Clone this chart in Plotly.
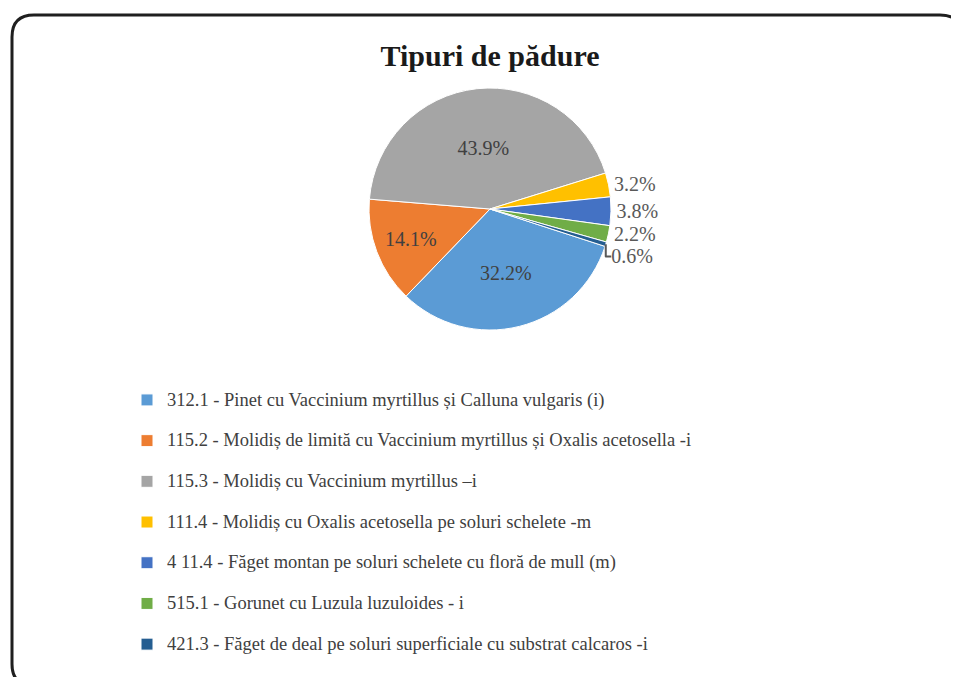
import plotly.graph_objects as go

# ---- data ----
labels = [
    "312.1 - Pinet cu Vaccinium myrtillus și Calluna vulgaris (i)",
    "115.2 - Molidiș de limită cu Vaccinium myrtillus și Oxalis acetosella -i",
    "115.3 - Molidiș cu Vaccinium myrtillus –i",
    "111.4 - Molidiș cu Oxalis acetosella pe soluri schelete -m",
    "4 11.4 - Făget montan pe soluri schelete cu floră de mull (m)",
    "515.1 - Gorunet cu Luzula luzuloides - i",
    "421.3 - Făget de deal pe soluri superficiale cu substrat calcaros -i",
]
values = [32.2, 14.1, 43.9, 3.2, 3.8, 2.2, 0.6]
colors = ["#5B9BD5", "#ED7D31", "#A5A5A5", "#FFC000", "#4472C4", "#70AD47", "#255E91"]
title_text = "Tipuri de pădure"

W, H = 959, 677
OFF = 8  # page body margin


def px(x):
    return (x - OFF) / W


def py(y):
    return 1 - (y - OFF) / H


FONT = "Liberation Serif"

# legend labels: larger visible text, with a trailing blank line for row spacing
legend_labels = [f"<span style='font-size:18.5px'>{t}</span><br>\u00a0" for t in labels]

fig = go.Figure()
fig.add_trace(go.Pie(
    labels=legend_labels,
    values=values,
    sort=False,
    direction="clockwise",
    rotation=108,
    marker=dict(colors=colors, line=dict(color="white", width=1)),
    texttemplate="%{percent:.1%}",
    textposition=["inside", "inside", "inside", "outside", "outside", "outside", "outside"],
    insidetextorientation="horizontal",
    insidetextfont=dict(family=FONT, size=20, color="#404040"),
    outsidetextfont=dict(family=FONT, size=20, color="#595959"),
    domain=dict(x=[px(490 - 170), px(490 + 170)], y=[py(330), py(88)]),
    hovertext=labels,
    hoverinfo="text+percent",
))

# rounded frame (decoration)
x0, x1, y0, y1, r = 12, 962, 15, 686, 22
path = (
    f"M {px(x0 + r)},{py(y0)} L {px(x1 - r)},{py(y0)} "
    f"Q {px(x1)},{py(y0)} {px(x1)},{py(y0 + r)} "
    f"L {px(x1)},{py(y1 - r)} Q {px(x1)},{py(y1)} {px(x1 - r)},{py(y1)} "
    f"L {px(x0 + r)},{py(y1)} Q {px(x0)},{py(y1)} {px(x0)},{py(y1 - r)} "
    f"L {px(x0)},{py(y0 + r)} Q {px(x0)},{py(y0)} {px(x0 + r)},{py(y0)} Z"
)

fig.update_layout(
    width=W, height=H,
    margin=dict(l=0, r=0, t=0, b=0),
    paper_bgcolor="white",
    plot_bgcolor="white",
    font=dict(family=FONT, color="#404040"),
    title=dict(text=f"<b>{title_text}</b>", x=px(490), xanchor="center",
               y=py(55), yanchor="middle",
               font=dict(family=FONT, size=30, color="#1a1a1a")),
    showlegend=True,
    legend=dict(
        x=px(127), xanchor="left", y=py(384), yanchor="top",
        font=dict(family=FONT, size=14.5, color="#404040"),
        valign="top",
        bgcolor="rgba(0,0,0,0)",
        itemwidth=30,
    ),
    shapes=[dict(type="path", xref="paper", yref="paper", path=path,
                 line=dict(color="#1f1f1f", width=3), fillcolor="rgba(0,0,0,0)",
                 layer="above")],
)

fig.write_html("out.html")
